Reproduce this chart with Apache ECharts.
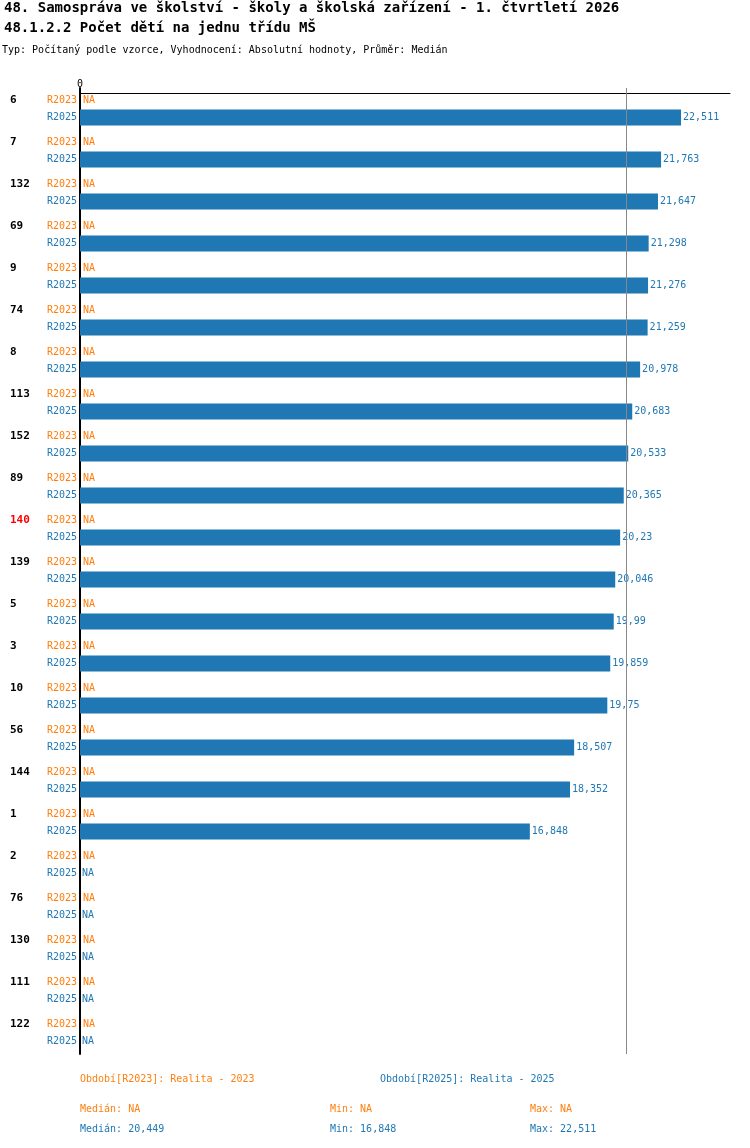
<!DOCTYPE html>
<html><head><meta charset="utf-8">
<script src="https://cdn.jsdelivr.net/npm/echarts@6/dist/echarts.min.js"></script>
<style>html,body{margin:0;padding:0;background:#fff}#c{width:750px;height:1148px}</style>
</head><body><div id="c"></div>
<script>
const categories = ['6','7','132','69','9','74','8','113','152','89','140','139','5','3','10','56','144','1','2','76','130','111','122'];
const r2023 = categories.map(() => null);
const r2025 = [22.511,21.763,21.647,21.298,21.276,21.259,20.978,20.683,20.533,20.365,20.23,20.046,19.99,19.859,19.75,18.507,18.352,16.848,null,null,null,null,null];
const highlight = '140';
const median2025 = 20.449;
const ORANGE = '#ff7f0e', BLUE = '#1f77b4';
const F = 'DejaVu Sans Mono';
const fmt = v => v == null ? 'NA' : String(v).replace('.', ',');
const chart = echarts.init(document.getElementById('c'));
chart.setOption({
  animation: false,
  textStyle: {fontFamily: F},
  grid: {left: 80, top: 88, width: 650, height: 966},
  xAxis: {type: 'value', position: 'top', min: 0, max: 650/26.7, offset: -5,
    axisLine: {show: true, lineStyle: {color: '#000', width: 1}},
    axisTick: {show: false}, splitLine: {show: false},
    axisLabel: {fontFamily: F, fontSize: 10, color: '#000', margin: 4,
      formatter: v => v === 0 ? '0' : ''}},
  yAxis: {type: 'category', inverse: true, data: categories,
    axisLine: {show: true, lineStyle: {color: '#000', width: 2}},
    axisTick: {show: false},
    axisLabel: {align: 'left', margin: 70, lineHeight: 17,
      formatter: c => `{${c === highlight ? 'hid' : 'id'}|${c}}{a|R2023}\n{sp|}{b|R2025}`,
      rich: {
        id: {width: 37, fontFamily: F, fontSize: 11, fontWeight: 'bold', color: '#000', lineHeight: 17},
        hid: {width: 37, fontFamily: F, fontSize: 11, fontWeight: 'bold', color: '#ff0000', lineHeight: 17},
        sp: {width: 37, lineHeight: 17},
        a: {fontFamily: F, fontSize: 10, color: ORANGE, lineHeight: 17},
        b: {fontFamily: F, fontSize: 10, color: BLUE, lineHeight: 17}
      }}},
  series: [
    {name: 'R2023', type: 'bar', barWidth: 16, barGap: '6%',
      data: r2023.map(v => v == null ? 0 : v), itemStyle: {color: ORANGE},
      label: {show: true, position: 'right', distance: 3, fontFamily: F, fontSize: 10, color: ORANGE,
        formatter: p => fmt(r2023[p.dataIndex])}},
    {name: 'R2025', type: 'bar', barWidth: 16,
      data: r2025.map(v => v == null ? 0 : v), itemStyle: {color: BLUE},
      label: {show: true, position: 'right', distance: 2, fontFamily: F, fontSize: 10, color: BLUE,
        formatter: p => fmt(r2025[p.dataIndex])},
      markLine: {symbol: 'none', silent: true, label: {show: false},
        lineStyle: {color: '#888', type: 'solid', width: 1},
        data: [{xAxis: median2025}]}}
  ],
  graphic: [
    {type: 'text', left: 4, top: 1, style: {text: '48. Samospráva ve školství - školy a školská zařízení - 1. čtvrtletí 2026', font: 'bold 14px "DejaVu Sans Mono"', fill: '#000'}},
    {type: 'text', left: 4, top: 21, style: {text: '48.1.2.2 Počet dětí na jednu třídu MŠ', font: 'bold 14px "DejaVu Sans Mono"', fill: '#000'}},
    {type: 'text', left: 2, top: 45, style: {text: 'Typ: Počítaný podle vzorce, Vyhodnocení: Absolutní hodnoty, Průměr: Medián', font: '10px "DejaVu Sans Mono"', fill: '#000'}},
    {type: 'text', left: 80, top: 1074, style: {text: 'Období[R2023]: Realita - 2023', font: '10px "DejaVu Sans Mono"', fill: ORANGE}},
    {type: 'text', left: 380, top: 1074, style: {text: 'Období[R2025]: Realita - 2025', font: '10px "DejaVu Sans Mono"', fill: BLUE}},
    {type: 'text', left: 80, top: 1104, style: {text: 'Medián: NA', font: '10px "DejaVu Sans Mono"', fill: ORANGE}},
    {type: 'text', left: 330, top: 1104, style: {text: 'Min: NA', font: '10px "DejaVu Sans Mono"', fill: ORANGE}},
    {type: 'text', left: 530, top: 1104, style: {text: 'Max: NA', font: '10px "DejaVu Sans Mono"', fill: ORANGE}},
    {type: 'text', left: 80, top: 1124, style: {text: 'Medián: ' + fmt(median2025), font: '10px "DejaVu Sans Mono"', fill: BLUE}},
    {type: 'text', left: 330, top: 1124, style: {text: 'Min: ' + fmt(Math.min(...r2025.filter(v => v != null))), font: '10px "DejaVu Sans Mono"', fill: BLUE}},
    {type: 'text', left: 530, top: 1124, style: {text: 'Max: ' + fmt(Math.max(...r2025.filter(v => v != null))), font: '10px "DejaVu Sans Mono"', fill: BLUE}}
  ]
});
</script></body></html>
